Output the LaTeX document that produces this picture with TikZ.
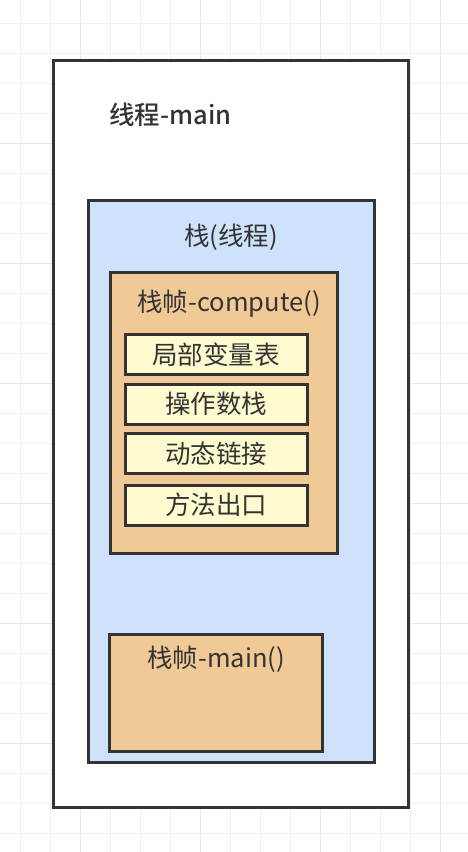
\documentclass[tikz,border=0pt]{standalone}
\usepackage{fontspec}
\usepackage{xcolor,tikz}
\newfontfamily\cjk{Noto Sans CJK SC}
\newfontfamily\cjkm{Noto Sans CJK SC Medium}
\definecolor{ln}{HTML}{333333}
\definecolor{stk}{HTML}{CFE2FB}
\definecolor{frm}{HTML}{F1C997}
\definecolor{slt}{HTML}{FDFBCF}

\begin{document}
\begin{tikzpicture}[x=1pt,y=-1pt,
  b/.style={draw=ln,line width=3pt,minimum width=#1},
  t/.style={text=ln,font=\cjk\fontsize{25.5}{29}\selectfont,inner sep=0pt},
  s/.style={b=182pt,fill=slt,minimum height=40pt,t}]
\useasboundingbox (0,0) rectangle (468,852);
% grid
\foreach \x in {20,50,...,460} \draw[gray!12,line width=1pt] (\x,0)--(\x,852);
\foreach \y in {23,53,...,850} \draw[gray!12,line width=1pt] (0,\y)--(468,\y);
\foreach \x in {80,200,320,440} \draw[gray!18,line width=1pt] (\x,0)--(\x,852);
\foreach \y in {143,263,...,850} \draw[gray!18,line width=1pt] (0,\y)--(468,\y);
% boxes
\node[b=355pt,fill=white,minimum height=747pt] (thr) at (230.5,433.5) {};
\node[b=286pt,fill=stk,minimum height=562pt] (stack) at (231,481) {};
\node[b=227pt,fill=frm,minimum height=281pt] (fc) at (223.5,412.5) {};
\node[b=213pt,fill=frm,minimum height=117pt] (fm) at (215.5,692.5) {};
\node[s] (loc) at (216,354.5) {局部变量表};
\node[s] (ops) at (216,404) {操作数栈};
\node[s] (dyn) at (216,453.5) {动态链接};
\node[s] (ret) at (216,505) {方法出口};
% labels
\node[t,font=\cjkm\fontsize{25.5}{29}\selectfont,anchor=west] (thrl) at (109,115) {线程-main};
\node[t] (stackl) at (231,237) {栈(线程)};
\node[t] (fcl) at (229,304) {栈帧-compute()};
\node[t] (fml) at (216,659) {栈帧-main()};
\end{tikzpicture}
\end{document}
